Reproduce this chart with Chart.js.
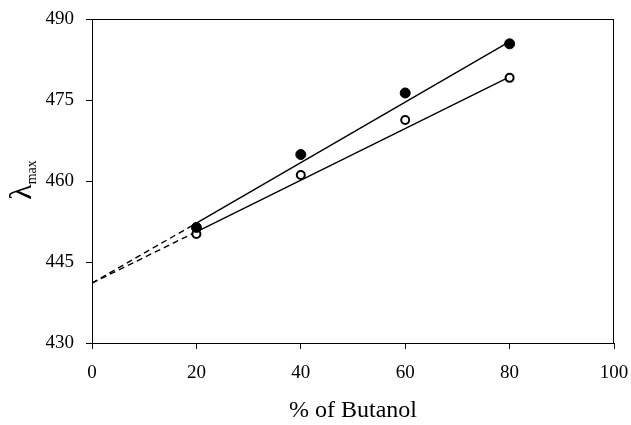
<!DOCTYPE html>
<html>
<head>
<meta charset="utf-8">
<script src="https://cdn.jsdelivr.net/npm/chart.js@4"></script>
<style>
  html, body { margin: 0; padding: 0; background: #fff; }
  #wrap { width: 631px; height: 425px; }
</style>
</head>
<body>
<div id="wrap"><canvas id="grafica" width="631" height="425"></canvas></div>
<script>
// % of butanol in the mixture
const butanolPct = [20, 40, 60, 80];
// lambda max, filled circles and open circles
const lambdaFilled = [451.4, 464.9, 476.3, 485.4];
const lambdaOpen = [450.2, 461.1, 471.3, 479.1];

// fitted lines (solid over the data, dashed extrapolation back to 0 %)
const fitFilledX = [20, 80];
const fitFilledY = [452.2, 485.8];
const fitOpenX = [20, 80];
const fitOpenY = [450.6, 479.3];
const extrapFilledX = [0, 20];
const extrapFilledY = [441.1, 452.2];
const extrapOpenX = [0, 20];
const extrapOpenY = [441.1, 450.6];

const xTitle = '% of Butanol';
const yTitleMain = 'λ';
const yTitleSub = 'max';

const pairs = (xs, ys) => xs.map((x, i) => ({ x: x, y: ys[i] }));
const serif = 'Liberation Serif';

// draws the box round the plot and the y title with its subscript
const framePlugin = {
    id: 'frame',
    afterDraw(chart) {
        const { ctx, chartArea } = chart;
        ctx.save();
        ctx.strokeStyle = '#000';
        ctx.lineWidth = 1;
        ctx.strokeRect(chartArea.left + 0.5, chartArea.top + 0.5,
            chartArea.right - chartArea.left - 1, chartArea.bottom - chartArea.top);

        ctx.translate(31, 180);
        ctx.rotate(-Math.PI / 2);
        ctx.fillStyle = '#000';
        ctx.textBaseline = 'alphabetic';
        ctx.font = '32px "' + serif + '"';
        const wMain = ctx.measureText(yTitleMain).width;
        ctx.font = '14px "' + serif + '"';
        const wSub = ctx.measureText(yTitleSub).width;
        const start = -(wMain + wSub) / 2;
        ctx.font = '32px "' + serif + '"';
        ctx.fillText(yTitleMain, start, 0);
        ctx.font = '14px "' + serif + '"';
        ctx.fillText(yTitleSub, start + wMain, 5);
        ctx.restore();
    }
};

new Chart(document.getElementById('grafica'), {
    type: 'scatter',
    data: {
        datasets: [
            {
                label: 'filled',
                data: pairs(butanolPct, lambdaFilled),
                backgroundColor: '#000',
                borderColor: '#000',
                pointRadius: 5,
                borderWidth: 1
            },
            {
                label: 'open',
                data: pairs(butanolPct, lambdaOpen),
                backgroundColor: '#fff',
                borderColor: '#000',
                pointRadius: 4,
                borderWidth: 2
            },
            {
                label: 'fit filled',
                data: pairs(fitFilledX, fitFilledY),
                showLine: true,
                pointRadius: 0,
                borderColor: '#000',
                borderWidth: 1.4
            },
            {
                label: 'fit open',
                data: pairs(fitOpenX, fitOpenY),
                showLine: true,
                pointRadius: 0,
                borderColor: '#000',
                borderWidth: 1.4
            },
            {
                label: 'extrap filled',
                data: pairs(extrapFilledX, extrapFilledY),
                showLine: true,
                pointRadius: 0,
                borderColor: '#000',
                borderWidth: 1.4,
                borderDash: [6, 4]
            },
            {
                label: 'extrap open',
                data: pairs(extrapOpenX, extrapOpenY),
                showLine: true,
                pointRadius: 0,
                borderColor: '#000',
                borderWidth: 1.4,
                borderDash: [6, 4]
            }
        ]
    },
    options: {
        responsive: false,
        animation: false,
        layout: { padding: { top: 19, right: 17, left: 0, bottom: 0 } },
        plugins: {
            legend: { display: false },
            tooltip: { enabled: false }
        },
        scales: {
            x: {
                type: 'linear',
                min: 0,
                max: 100,
                afterFit: (scale) => {
                    scale.height = 82;
                    scale.paddingLeft = 0;
                    scale.paddingRight = 0;
                },
                ticks: {
                    stepSize: 20,
                    color: '#000',
                    padding: 13,
                    font: { family: serif, size: 19 }
                },
                grid: { drawOnChartArea: false, tickLength: 6, color: '#000' },
                border: { color: '#000', width: 1 },
                title: {
                    display: true,
                    text: xTitle,
                    color: '#000',
                    padding: 0,
                    font: { family: serif, size: 24 }
                }
            },
            y: {
                min: 430,
                max: 490,
                afterFit: (scale) => {
                    scale.width = 92;
                    scale.paddingTop = 0;
                    scale.paddingBottom = 0;
                },
                ticks: {
                    stepSize: 15,
                    color: '#000',
                    padding: 12,
                    font: { family: serif, size: 19 }
                },
                grid: { drawOnChartArea: false, tickLength: 6, color: '#000' },
                border: { color: '#000', width: 1 }
            }
        }
    },
    plugins: [framePlugin]
});
</script>
</body>
</html>
